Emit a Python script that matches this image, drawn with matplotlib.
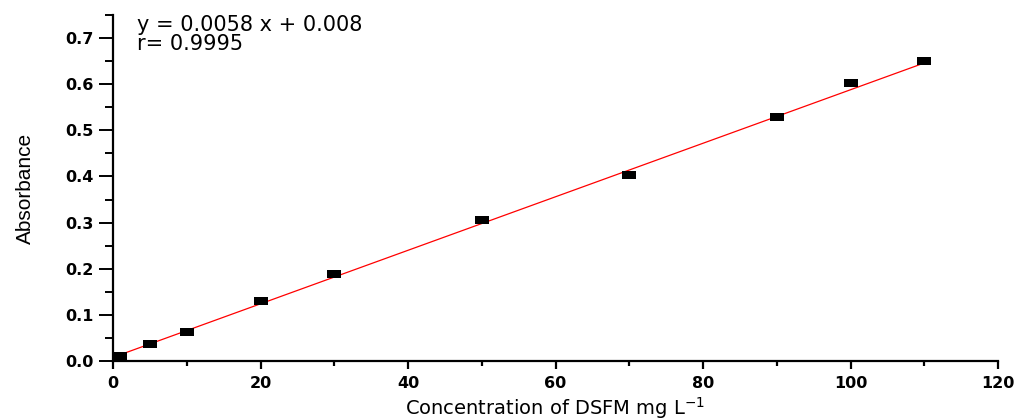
import matplotlib
matplotlib.use("Agg")
import matplotlib.pyplot as plt
from matplotlib.ticker import MultipleLocator

conc = [1, 5, 10, 20, 30, 50, 70, 90, 100, 110]
absorb = [0.011, 0.037, 0.063, 0.130, 0.188, 0.306, 0.403, 0.529, 0.603, 0.651]
slope = 0.0058
intercept = 0.008
fit_x = [1, 110]
eq_text = "y = 0.0058 x + 0.008\nr= 0.9995"
yticks = [0, 0.1, 0.2, 0.3, 0.4, 0.5, 0.6, 0.7]
yticklabels = ["0.0", "0.1", "0.2", "0.3", "0.4", "0.5", "0.6", "0.7"]

plt.rcParams["mathtext.fontset"] = "dejavusans"

fig = plt.figure(figsize=(10.21, 4.19), dpi=100)
ax = fig.add_axes([0.1107, 0.1384, 0.8668, 0.8258])

fit_y = [slope * x + intercept for x in fit_x]
ax.plot(fit_x, fit_y, color="red", lw=0.9, zorder=2)
rect = [(-1, -0.55), (1, -0.55), (1, 0.55), (-1, 0.55), (-1, -0.55)]
ax.scatter(conc, absorb, marker=rect, s=105, color="black", zorder=3, linewidths=0)

ax.set_xlim(0, 120)
ax.set_ylim(0, 0.75)
ax.xaxis.set_major_locator(MultipleLocator(20))
ax.xaxis.set_minor_locator(MultipleLocator(10))
ax.yaxis.set_minor_locator(MultipleLocator(0.05))
ax.set_yticks(yticks)
ax.set_yticklabels(yticklabels)

for s in ["top", "right"]:
    ax.spines[s].set_visible(False)
for s in ["left", "bottom"]:
    ax.spines[s].set_linewidth(1.6)
ax.tick_params(axis="y", which="major", direction="out", length=10, width=1.4, pad=4)
ax.tick_params(axis="y", which="minor", direction="out", length=6, width=1.4)
ax.tick_params(axis="x", which="major", direction="out", length=6, width=1.6, pad=5)
ax.tick_params(axis="x", which="minor", direction="out", length=3.5, width=1.6)
for lbl in ax.get_xticklabels() + ax.get_yticklabels():
    lbl.set_fontfamily("DejaVu Sans")
    lbl.set_fontweight("bold")
    lbl.set_fontsize(11.5)

ax.set_xlabel("Concentration of DSFM mg L$^{-1}$", fontsize=14, fontfamily="DejaVu Sans")
ax.xaxis.set_label_coords(0.5, -0.098)
ax.set_ylabel("Absorbance", fontsize=15, fontfamily="Liberation Sans")
ax.yaxis.set_label_coords(-0.088, 0.5)

ax.text(0.027, 1.0, eq_text, transform=ax.transAxes, fontsize=15,
        fontfamily="DejaVu Sans", va="top", ha="left", linespacing=0.95)

fig.savefig("out.png", dpi=100)
